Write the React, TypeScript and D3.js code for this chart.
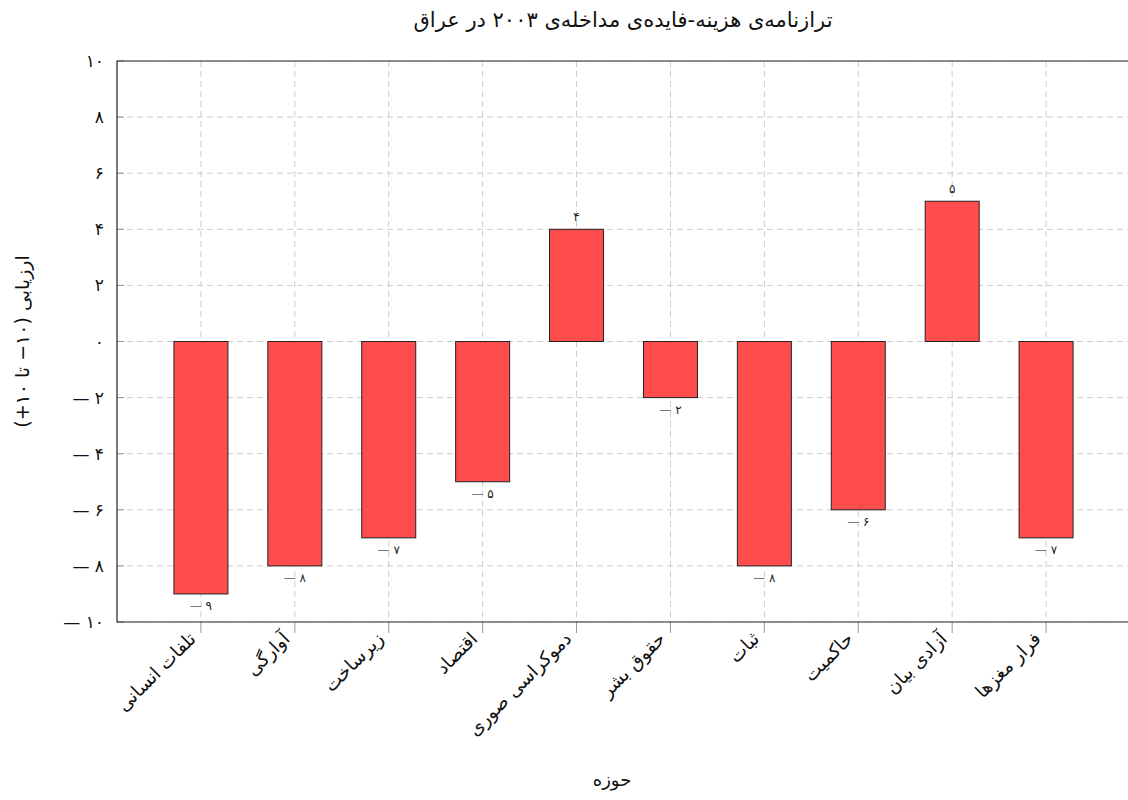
import React from "react";
import * as d3 from "d3";

const categories = [
  "تلفات انسانی",
  "آوارگی",
  "زیرساخت",
  "اقتصاد",
  "دموکراسی صوری",
  "حقوق بشر",
  "ثبات",
  "حاکمیت",
  "آزادی بیان",
  "فرار مغزها",
];
const values = [-9, -8, -7, -5, 4, -2, -8, -6, 5, -7];
const yTicks = [-10, -8, -6, -4, -2, 0, 2, 4, 6, 8, 10];
const title = "ترازنامه‌ی هزینه-فایده‌ی مداخله‌ی ۲۰۰۳ در عراق";
const xTitle = "حوزه";
const yTitle = "ارزیابی (\u2066−۱۰\u2069 تا \u2066+۱۰\u2069)";

const W = 1128;
const H = 800;
const left = 117;
const right = 1130;
const top = 61;
const bottom = 622;
const FONT = "'DejaVu Sans', sans-serif";

const fa = (n: number) =>
  Math.abs(n)
    .toString()
    .replace(/\d/g, (d) => "۰۱۲۳۴۵۶۷۸۹"[+d]);

export default function App() {
  const pad = 84 / 94;
  const x = d3.scaleLinear().domain([-pad, categories.length - 1 + pad]).range([left, right]);
  const y = d3.scaleLinear().domain([-10, 10]).range([bottom, top]);
  const barW = 54;
  const grid = "#cccccc";
  return (
    <svg
      width={W}
      height={H}
      style={{ position: "absolute", left: 0, top: 0, background: "#fff" }}
      fontFamily={FONT}
    >
      <defs>
        <clipPath id="plot">
          <rect x={left} y={top} width={W - left} height={bottom - top} />
        </clipPath>
      </defs>
      {/* grid */}
      <g clipPath="url(#plot)">
        {yTicks.map((t) => (
          <line key={"gy" + t} x1={left} x2={W} y1={y(t)} y2={y(t)} stroke={grid} strokeDasharray="6,4" strokeWidth={1} />
        ))}
        {categories.map((c, i) => (
          <line key={"gx" + i} x1={x(i)} x2={x(i)} y1={top} y2={bottom} stroke={grid} strokeDasharray="6,4" strokeWidth={1} />
        ))}
      </g>
      {/* bars */}
      {values.map((v, i) => (
        <rect
          key={"b" + i}
          x={x(i) - barW / 2}
          y={Math.min(y(v), y(0))}
          width={barW}
          height={Math.abs(y(v) - y(0))}
          fill="#ff4d4d"
          stroke="#222"
          strokeWidth={1}
        />
      ))}
      {/* value labels */}
      {values.map((v, i) => (
        <text
          key={"v" + i}
          x={x(i)}
          y={v >= 0 ? y(v) - 8 : y(v) + 16}
          textAnchor="middle"
          fontSize={12}
          fill="#222"
          direction="ltr"
        >
          {v < 0 ? <tspan fill="#777">{"— "}</tspan> : null}
          {fa(v)}
        </text>
      ))}
      {/* ticks */}
      {yTicks.map((t) => (
        <line key={"ty" + t} x1={left} x2={left + 7} y1={y(t)} y2={y(t)} stroke="#999" />
      ))}
      {categories.map((c, i) => (
        <line key={"tx" + i} x1={x(i)} x2={x(i)} y1={bottom} y2={bottom + 11} stroke="#999" />
      ))}
      {/* frame */}
      <path d={`M${W},${top}H${left}V${bottom}H${W}`} fill="none" stroke="#222" strokeWidth={1.2} />
      {/* y tick labels */}
      {yTicks.map((t) => (
        <text key={"ly" + t} x={left - 13} y={y(t) + 6} textAnchor="end" fontSize={17} fill="#111" direction="ltr">
          {t < 0 ? "— " : ""}
          {fa(t)}
        </text>
      ))}
      {/* x tick labels */}
      {categories.map((c, i) => (
        <text
          key={"lx" + i}
          transform={`translate(${x(i) - 4},${bottom + 18}) rotate(-45)`}
          textAnchor="start"
          direction="rtl"
          fontSize={18.5}
          fill="#111"
        >
          {c}
        </text>
      ))}
      {/* titles */}
      <text x={623} y={27} textAnchor="middle" fontSize={21} fill="#111" direction="rtl">
        {title}
      </text>
      <text x={612} y={786} textAnchor="middle" fontSize={18} fill="#111" direction="rtl">
        {xTitle}
      </text>
      <text
        transform={`translate(29,${(top + bottom) / 2}) rotate(-90)`}
        textAnchor="middle"
        fontSize={19}
        fill="#111"
        direction="rtl"
      >
        {yTitle}
      </text>
    </svg>
  );
}
